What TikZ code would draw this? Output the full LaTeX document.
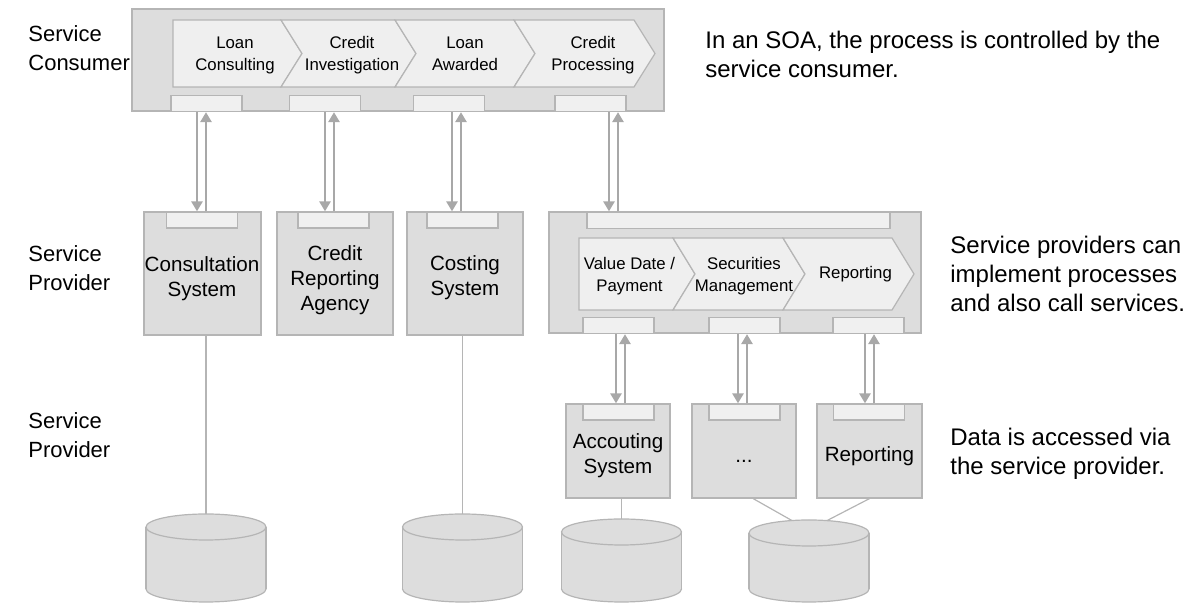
\documentclass[tikz,border=0pt]{standalone}
\usepackage{fontspec}
\setmainfont{Liberation Sans}
\usetikzlibrary{arrows.meta,calc}

\definecolor{boxfill}{HTML}{DDDDDD}
\definecolor{boxline}{HTML}{B5B5B5}
\definecolor{portfill}{HTML}{F0F0F0}
\definecolor{chevfill}{HTML}{EFEFEF}
\definecolor{arrowgray}{HTML}{A8A8A8}

\tikzset{
  layer/.style={draw=boxline, fill=boxfill, line width=0.6pt, inner sep=0pt},
  port/.style={draw=boxline, fill=portfill, line width=0.6pt, minimum width=35.5pt, minimum height=8pt, inner sep=0pt},
  chev/.style={draw=boxline, fill=chevfill, line width=0.6pt},
  chevtext/.style={align=center, font=\fontsize{8.4}{11}\selectfont, inner sep=0pt},
  systext/.style={align=center, font=\fontsize{10.3}{12.5}\selectfont, inner sep=0pt},
  note/.style={align=left, anchor=west, font=\fontsize{12}{14.5}\selectfont, inner sep=0pt},
  layername/.style={note, font=\fontsize{11}{14.5}\selectfont},
  flow/.style={draw=arrowgray, line width=1.4pt, -{Triangle[length=5pt,width=5.5pt]}},
  link/.style={draw=boxline, line width=0.6pt},
  db/.style={draw=boxline, fill=boxfill, line width=0.6pt},
}

\begin{document}
\begin{tikzpicture}[x=0.5pt, y=-0.5pt]
  \useasboundingbox (0,0) rectangle (1191,603);

  % service consumer
  \node[layer, minimum width=266pt, minimum height=51pt] (cons) at (398,60) {};
  \foreach \a/\b/\n in {173/281/0, 281/395/21, 395/514/21, 514/634/21}
    \draw[chev] (\a,20) -- (\b,20) -- (\b+21,53.5) -- (\b,87) -- (\a,87) -- (\a+\n,53.5) -- cycle;
  \node[chevtext] (loan) at (235,57) {Loan\\Consulting\strut};
  \node[chevtext] (invest) at (352,57) {Credit\\Investigation\strut};
  \node[chevtext] (award) at (465,57) {Loan\\Awarded\strut};
  \node[chevtext] (process) at (593,57) {Credit\\Processing\strut};

  \node[port] (cp1) at (206.5,103.5) {};
  \node[port] (cp2) at (325,103.5) {};
  \node[port] (cp3) at (449,103.5) {};
  \node[port] (cp4) at (590.5,103.5) {};

  % service providers
  \node[layer, minimum width=58.5pt, minimum height=61.5pt] (consult) at (202.5,273.5) {};
  \node[layer, minimum width=58pt, minimum height=61.5pt] (creditag) at (335,273.5) {};
  \node[layer, minimum width=58pt, minimum height=61.5pt] (costing) at (465,273.5) {};
  \node[port] (sp1) at (202,220) {};
  \node[port] (sp2) at (333.5,220) {};
  \node[port] (sp3) at (462.5,220) {};
  \node[systext] (tconsult) at (202,279) {Consultation\\System};
  \node[systext] (tcreditag) at (335,280) {Credit\\Reporting\\Agency};
  \node[systext] (tcosting) at (465,278) {Costing\\System};

  \node[layer, minimum width=186pt, minimum height=60.5pt] (impl) at (735,272.5) {};
  \node[port, minimum width=151.5pt] (ip) at (738.5,220.5) {};
  \foreach \a/\b/\n in {579/673/0, 673/783/22, 783/892/22}
    \draw[chev] (\a,238) -- (\b,238) -- (\b+22,274) -- (\b,310) -- (\a,310) -- (\a+\n,274) -- cycle;
  \node[chevtext] (valdate) at (629.5,278) {Value Date /\\Payment\strut};
  \node[chevtext] (secmgmt) at (744,278) {Securities\\Management\strut};
  \node[chevtext] (report) at (855.5,274) {Reporting};
  \node[port] (ib1) at (618.5,325.5) {};
  \node[port] (ib2) at (744.5,325.5) {};
  \node[port] (ib3) at (868.5,325.5) {};

  % lower providers
  \node[layer, minimum width=52pt, minimum height=47pt] (acc) at (618,451) {};
  \node[layer, minimum width=52pt, minimum height=47pt] (dots) at (744,451) {};
  \node[layer, minimum width=52.5pt, minimum height=47pt] (rep) at (869.5,451) {};
  \node[port] (bp1) at (618.5,412) {};
  \node[port] (bp2) at (744.5,412) {};
  \node[port] (bp3) at (869,412) {};
  \node[systext] (tacc) at (618,456) {Accouting\\System};
  \node[systext] (tdots) at (744,461) {...};
  \node[systext] (trep) at (869.5,456) {Reporting};

  % calls
  \foreach \x/\u/\l in {197/cp1/consult, 325/cp2/creditag, 452/cp3/costing, 609/cp4/impl,
                        616/ib1/acc, 738/ib2/dots, 865/ib3/rep}
    \draw[flow] (\x,0 |- \u.south) -- (\x,0 |- \l.north);
  \foreach \x/\u/\l in {206/cp1/consult, 334/cp2/creditag, 461/cp3/costing, 618/cp4/impl,
                        625/ib1/acc, 747/ib2/dots, 874/ib3/rep}
    \draw[flow] (\x,0 |- \l.north) -- (\x,0 |- \u.south);

  % databases
  \foreach \cx/\ty in {206/527, 462.5/527, 621.5/532, 809/533} {
    \draw[db] (\cx,589) ellipse [x radius=60, y radius=13];
    \fill[boxfill] (\cx-60,\ty) rectangle (\cx+60,589);
    \draw[link] (\cx-60,\ty) -- (\cx-60,589) (\cx+60,\ty) -- (\cx+60,589);
    \draw[db] (\cx,\ty) ellipse [x radius=60, y radius=13];
  }
  \coordinate (db1) at (206,514);
  \coordinate (db2) at (462.5,514);
  \coordinate (db3) at (621.5,519);
  \coordinate (db4) at (809,520);
  \draw[link] (db1 |- consult.south) -- (db1);
  \draw[link] (db2 |- costing.south) -- (db2);
  \draw[link] (db3 |- acc.south) -- (db3);
  \draw[link] ($(dots.south west)!0.587!(dots.south east)$) -- ([xshift=-8.5pt,yshift=-0.3pt]db4);
  \draw[link] (rep.south) -- ([xshift=9pt,yshift=-0.3pt]db4);

  % labels
  \node[layername] (lcons) at (28,48) {Service\\Consumer};
  \node[layername] (lprov) at (28,268.5) {Service\\Provider};
  \node[layername] (lbase) at (28,435.5) {Service\\Provider};
  \node[note] (ncons) at (705,54.5) {In an SOA, the process is controlled by the\\service consumer.};
  \node[note] (nprov) at (950,274) {Service providers can\\implement processes\\and also call services.};
  \node[note] (nbase) at (950,453.5) {Data is accessed via\\the service provider.};
\end{tikzpicture}
\end{document}
